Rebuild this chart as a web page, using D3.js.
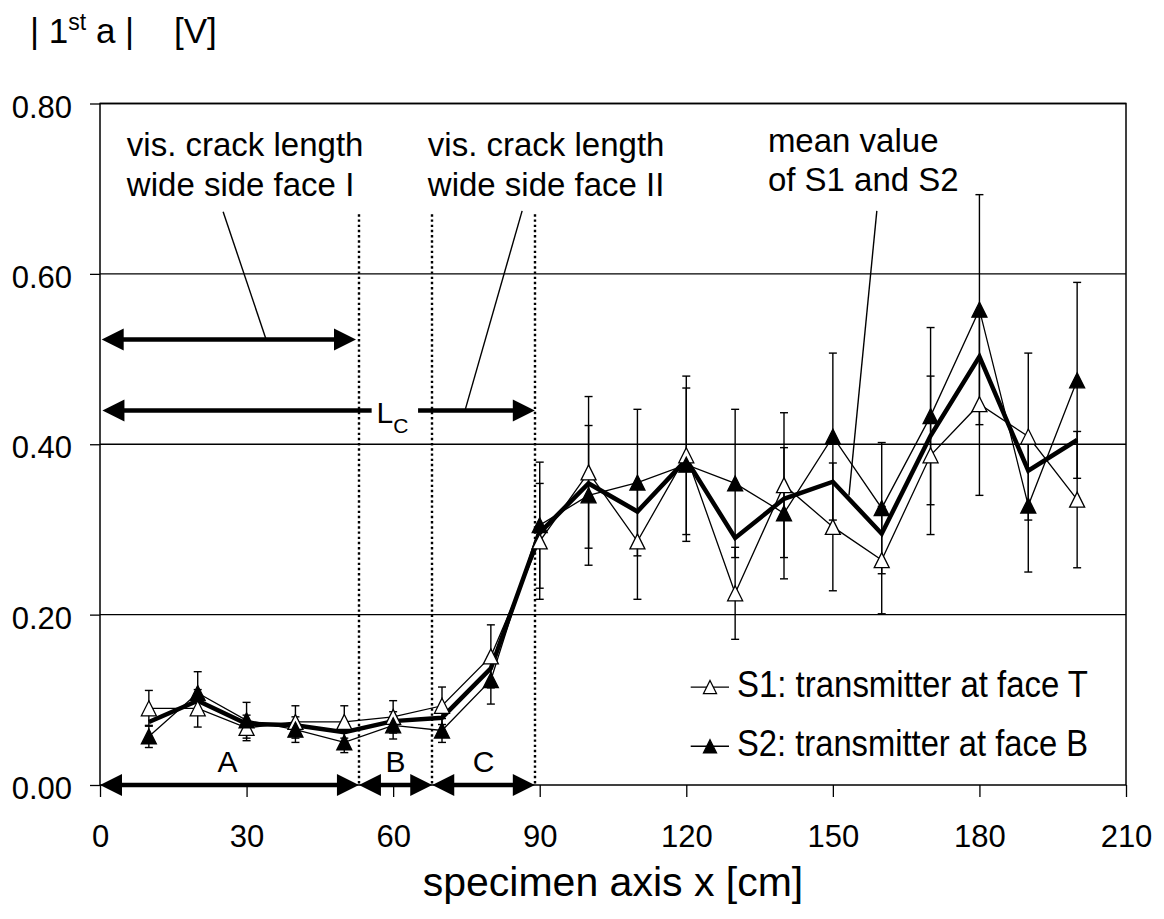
<!DOCTYPE html>
<html lang="en">
<head>
<meta charset="UTF-8">
<script src="https://d3js.org/d3.v7.min.js"></script>
<style>
    body { margin: 0; background: #fff; }
    svg text { font-family: "Liberation Sans", Arial, sans-serif; fill: #000; }
    .tick line { stroke: #000; stroke-width: 1.3px; }
</style>
<title>1st a vs specimen axis</title>
</head>
<body>
<div id="chart"></div>
<script>
// Data
const xPos = [10, 20, 30, 40, 50, 60, 70, 80, 90, 100, 110, 120, 130, 140, 150, 160, 170, 180, 190, 200];
const s1 = [0.090, 0.090, 0.067, 0.074, 0.074, 0.080, 0.093, 0.151, 0.286, 0.367, 0.286, 0.387, 0.225, 0.352, 0.303, 0.264, 0.387, 0.447, 0.409, 0.335];
const s1Err = [0.021, 0.022, 0.015, 0.019, 0.019, 0.019, 0.022, 0.037, 0.068, 0.089, 0.068, 0.093, 0.054, 0.085, 0.075, 0.063, 0.093, 0.107, 0.098, 0.080];
const s2 = [0.057, 0.108, 0.076, 0.065, 0.050, 0.070, 0.064, 0.123, 0.305, 0.340, 0.355, 0.376, 0.354, 0.319, 0.409, 0.325, 0.433, 0.558, 0.328, 0.475];
const s2Err = [0.013, 0.025, 0.021, 0.015, 0.012, 0.016, 0.014, 0.028, 0.074, 0.082, 0.086, 0.090, 0.087, 0.077, 0.098, 0.077, 0.104, 0.135, 0.078, 0.115];
const meanVal = [0.074, 0.099, 0.072, 0.070, 0.062, 0.075, 0.079, 0.137, 0.296, 0.354, 0.321, 0.382, 0.290, 0.336, 0.356, 0.295, 0.410, 0.503, 0.369, 0.405];

const xTicks = [0, 30, 60, 90, 120, 150, 180, 210];
const yTicks = [0, 0.2, 0.4, 0.6, 0.8];

// crack lengths [cm] and zone arrows
const crackLines = [53, 68, 89];
const zones = [
    { label: "A", from: 0, to: 53 },
    { label: "B", from: 53, to: 68 },
    { label: "C", from: 68, to: 89 }
];

// Dimensions
const width = 1164, height = 919;
const margin = { top: 103.5, right: 38, bottom: 134, left: 100 };

const svg = d3.select("#chart").append("svg")
    .attr("width", width)
    .attr("height", height);

// Scales
const x = d3.scaleLinear().domain([0, 210]).range([margin.left, width - margin.right]);
const y = d3.scaleLinear().domain([0, 0.8]).range([height - margin.bottom, margin.top]);

// Grid
svg.append("g").selectAll("line")
    .data(yTicks.filter(d => d > 0))
    .join("line")
    .attr("x1", x(0)).attr("x2", x(210))
    .attr("y1", d => y(d)).attr("y2", d => y(d))
    .attr("stroke", "#000").attr("stroke-width", 1.3);

// Axes
const xAxis = svg.append("g")
    .attr("transform", `translate(0,${y(0)})`)
    .call(d3.axisBottom(x).tickValues(xTicks).tickSize(12).tickPadding(28).tickFormat(d3.format("d")));
xAxis.select(".domain").remove();
xAxis.selectAll("text").attr("font-size", 31).style("font-family", "Liberation Sans, Arial, sans-serif");

const yAxis = svg.append("g")
    .attr("transform", `translate(${x(0)},0)`)
    .call(d3.axisLeft(y).tickValues(yTicks).tickSize(10).tickPadding(18).tickFormat(d3.format(".2f")));
yAxis.select(".domain").remove();
yAxis.selectAll("text").attr("font-size", 31).attr("dy", "0.44em").style("font-family", "Liberation Sans, Arial, sans-serif");

// Plot frame
svg.append("rect")
    .attr("x", x(0)).attr("y", y(0.8))
    .attr("width", x(210) - x(0)).attr("height", y(0) - y(0.8))
    .attr("fill", "none").attr("stroke", "#000").attr("stroke-width", 1.5);

// Dotted crack lines
svg.append("g").selectAll("line")
    .data(crackLines)
    .join("line")
    .attr("x1", d => Math.round(x(d))).attr("x2", d => Math.round(x(d)))
    .attr("y1", y(0.67)).attr("y2", y(0))
    .attr("stroke", "#000").attr("stroke-width", 2.4)
    .attr("stroke-dasharray", "2.4 2.8");

// Arrow helper
function arrow(x1, x2, yv, headL, headR) {
    const g = svg.append("g");
    const px1 = x(x1), px2 = x(x2), py = y(yv);
    const hl = 22, hw = 11;
    g.append("line")
        .attr("x1", headL ? px1 + hl - 2 : px1).attr("x2", headR ? px2 - hl + 2 : px2)
        .attr("y1", py).attr("y2", py)
        .attr("stroke", "#000").attr("stroke-width", 4.5);
    if (headL) g.append("path")
        .attr("d", `M${px1},${py}L${px1 + hl},${py - hw}L${px1 + hl},${py + hw}Z`);
    if (headR) g.append("path")
        .attr("d", `M${px2},${py}L${px2 - hl},${py - hw}L${px2 - hl},${py + hw}Z`);
}

// Zone arrows on the axis
zones.forEach(z => arrow(z.from, z.to, 0, true, true));
svg.append("g").selectAll("text")
    .data(zones)
    .join("text")
    .attr("x", d => x((d.from + d.to) / 2) - (d.label === "A" ? 2 : 0))
    .attr("y", y(0.0156))
    .attr("text-anchor", "middle")
    .attr("font-size", 30)
    .text(d => d.label);

// Crack length arrows
arrow(0.35, 52.4, 0.523, true, true);
arrow(0.5, 55.6, 0.4395, true, false);
arrow(65.1, 89, 0.4395, false, true);

const lc = svg.append("text").attr("x", x(56.6)).attr("y", y(0.4245)).attr("font-size", 30);
lc.append("tspan").text("L");
lc.append("tspan").attr("font-size", 21).attr("dy", 10).text("C");

// Error bars
function errorBars(vals, errs) {
    const g = svg.append("g").attr("stroke", "#000").attr("stroke-width", 1.4);
    vals.forEach((v, i) => {
        const cx = x(xPos[i]);
        const top = y(v + errs[i]), bot = y(v - errs[i]);
        g.append("line").attr("x1", cx).attr("x2", cx).attr("y1", top).attr("y2", bot);
        g.append("line").attr("x1", cx - 4).attr("x2", cx + 4).attr("y1", top).attr("y2", top);
        g.append("line").attr("x1", cx - 4).attr("x2", cx + 4).attr("y1", bot).attr("y2", bot);
    });
}
errorBars(s1, s1Err);
errorBars(s2, s2Err);

// Lines
const line = d3.line().x((d, i) => x(xPos[i])).y(d => y(d));
svg.append("path").datum(s1).attr("d", line)
    .attr("fill", "none").attr("stroke", "#000").attr("stroke-width", 1.3);
svg.append("path").datum(s2).attr("d", line)
    .attr("fill", "none").attr("stroke", "#000").attr("stroke-width", 1.3);
svg.append("path").datum(meanVal).attr("d", line)
    .attr("fill", "none").attr("stroke", "#000").attr("stroke-width", 4.5)
    .attr("stroke-linejoin", "miter");

// Markers
const tri = (s) => `M0,${-s}L${s},${s}L${-s},${s}Z`;
svg.append("g").selectAll("path")
    .data(s1)
    .join("path")
    .attr("d", tri(7.5))
    .attr("transform", (d, i) => `translate(${x(xPos[i])},${y(d)})`)
    .attr("fill", "#fff").attr("stroke", "#000").attr("stroke-width", 1.3);
svg.append("g").selectAll("path")
    .data(s2)
    .join("path")
    .attr("d", tri(7.5))
    .attr("transform", (d, i) => `translate(${x(xPos[i])},${y(d)})`)
    .attr("fill", "#000").attr("stroke", "#000").attr("stroke-width", 1.3);

// Annotation texts and leader lines
function twoLines(cx, v1, v2, l1, l2) {
    svg.append("text").attr("x", x(cx)).attr("y", y(v1)).attr("font-size", 33).text(l1);
    svg.append("text").attr("x", x(cx)).attr("y", y(v2)).attr("font-size", 33).text(l2);
}
twoLines(5.5, 0.738, 0.691, "vis. crack length", "wide side face I");
twoLines(67.1, 0.738, 0.691, "vis. crack length", "wide side face II");
twoLines(136.7, 0.743, 0.697, "mean value", "of S1 and S2");

function leader(xa, ya, xb, yb) {
    svg.append("line")
        .attr("x1", x(xa)).attr("y1", y(ya))
        .attr("x2", x(xb)).attr("y2", y(yb))
        .attr("stroke", "#000").attr("stroke-width", 1.4);
}
leader(25.2, 0.673, 34.0, 0.523);
leader(86.4, 0.674, 74.7, 0.4395);
leader(159.0, 0.674, 153.3, 0.340);

// Legend
const legend = [
    { label: "S1: transmitter at face T", fill: "#fff", yv: 0.115, ty: 0.103 },
    { label: "S2: transmitter at face B", fill: "#000", yv: 0.0455, ty: 0.0335 }
];
legend.forEach(d => {
    const ly = y(d.yv);
    svg.append("line").attr("x1", 690.7).attr("x2", 729)
        .attr("y1", ly).attr("y2", ly).attr("stroke", "#000").attr("stroke-width", 1.3);
    svg.append("path").attr("d", tri(6.5))
        .attr("transform", `translate(710,${ly})`)
        .attr("fill", d.fill).attr("stroke", "#000").attr("stroke-width", 1.3);
    svg.append("text").attr("x", 737).attr("y", y(d.ty))
        .attr("font-size", 36)
        .attr("textLength", 351).attr("lengthAdjust", "spacingAndGlyphs")
        .text(d.label);
});

// Axis titles
const title = svg.append("text").attr("x", 30).attr("y", 43).attr("font-size", 35);
title.append("tspan").text("| 1");
title.append("tspan").attr("font-size", 23).attr("dy", -13).text("st");
title.append("tspan").attr("dy", 13).text(" a |");
svg.append("text").attr("x", 174).attr("y", 43).attr("font-size", 35).text("[V]");

svg.append("text")
    .attr("x", (x(0) + x(210)) / 2)
    .attr("y", 896)
    .attr("text-anchor", "middle")
    .attr("font-size", 41)
    .text("specimen axis x [cm]");
</script>
</body>
</html>
